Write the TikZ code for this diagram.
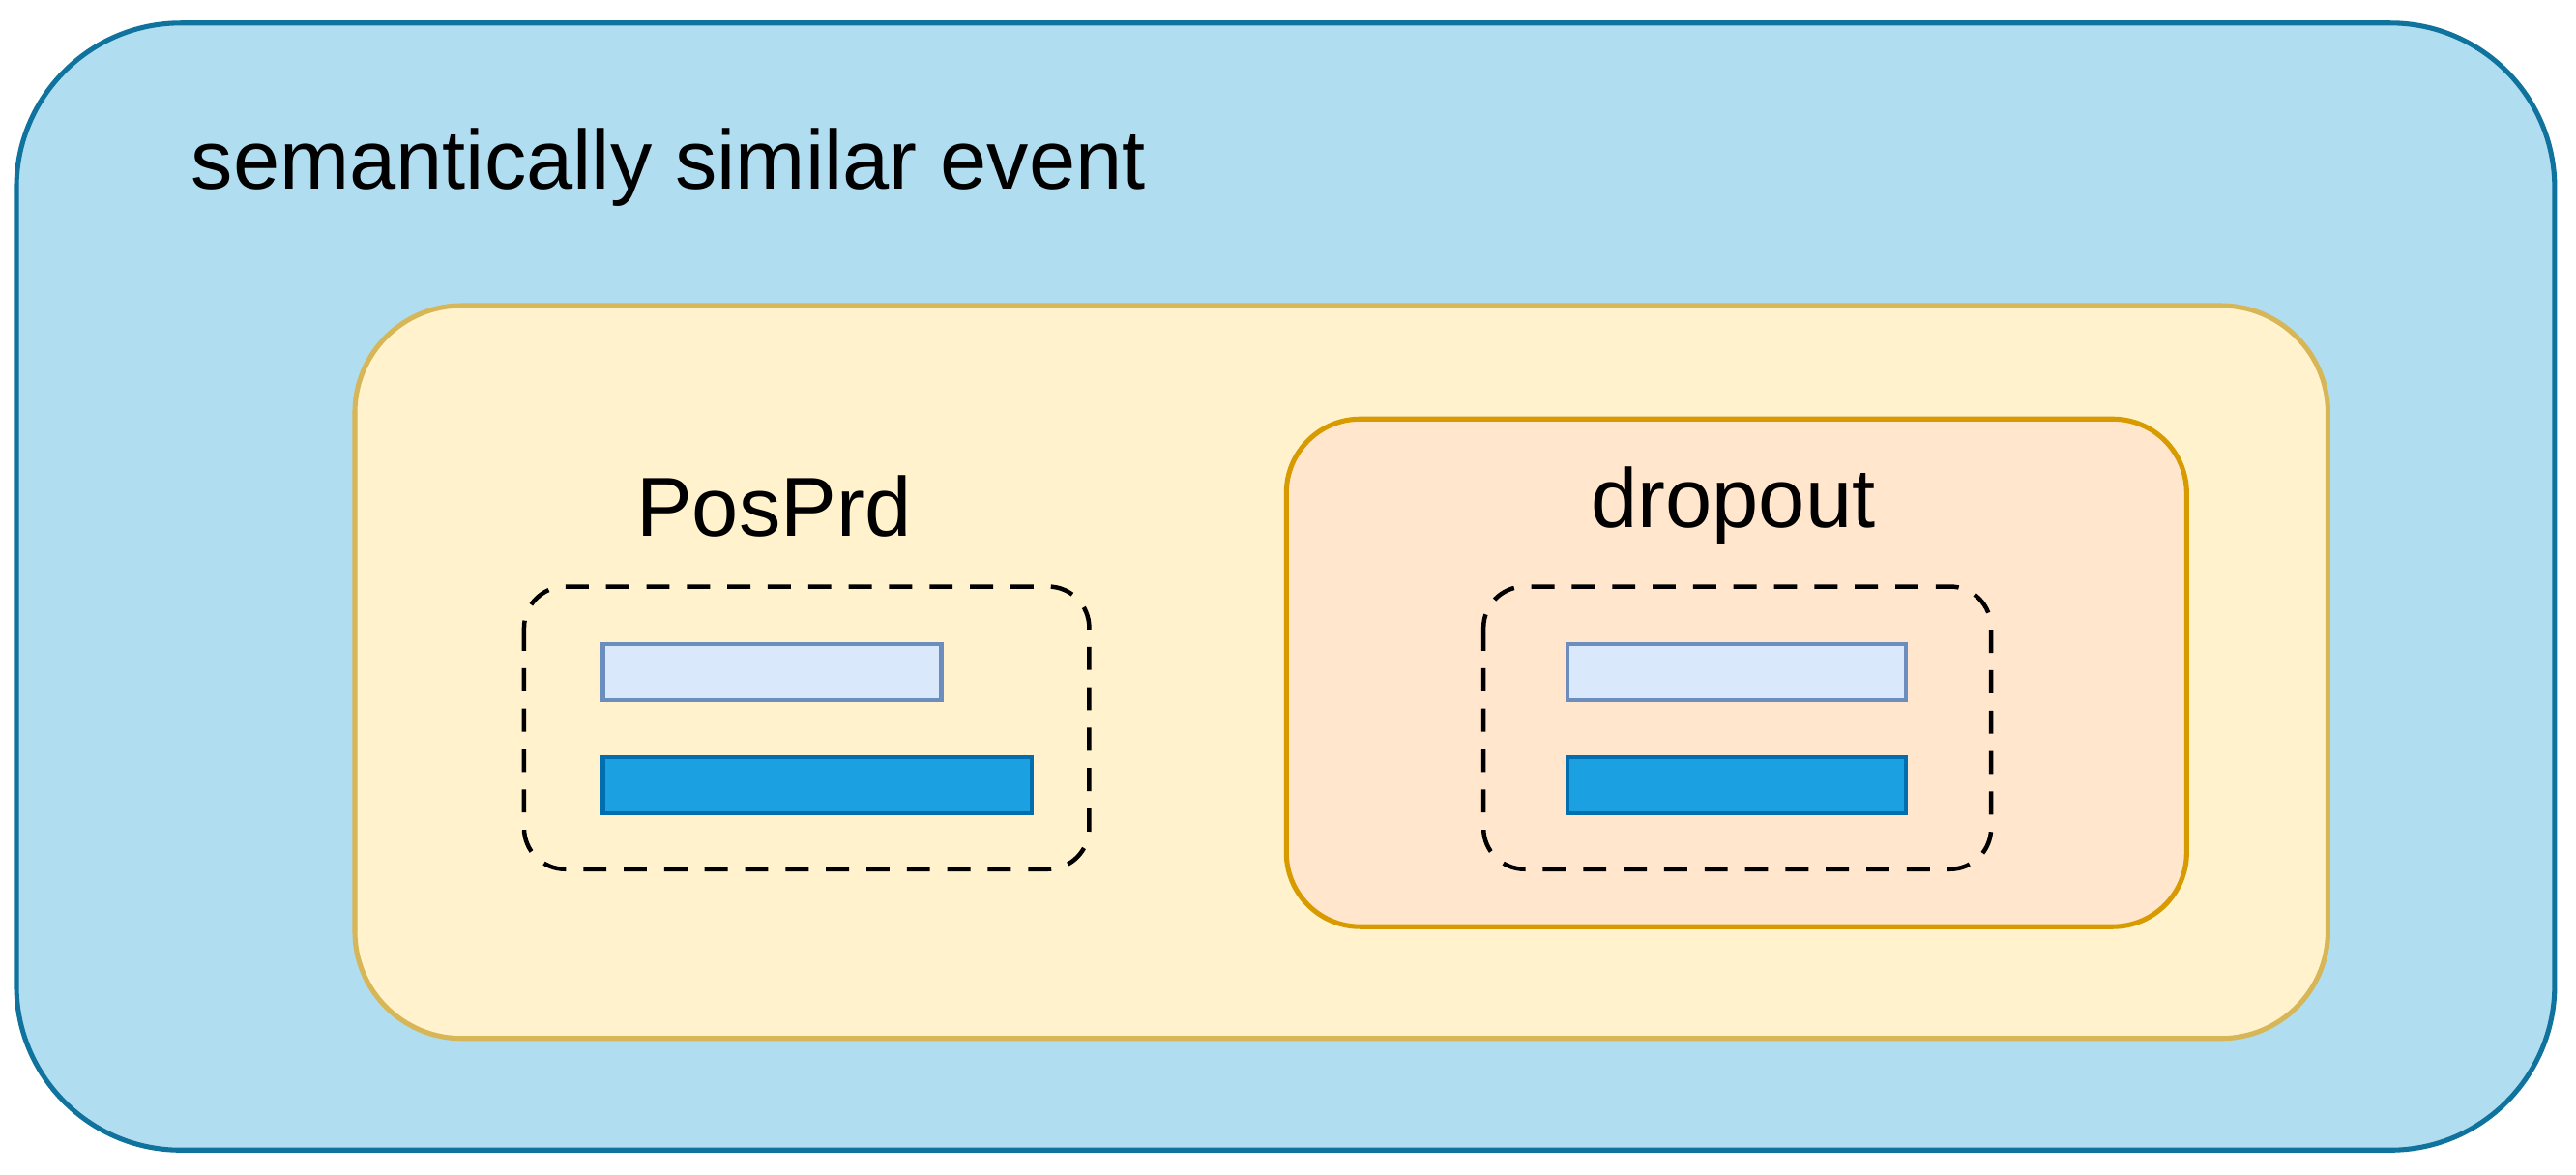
\documentclass[tikz,border=0pt]{standalone}
\usepackage{fontspec}
\setmainfont{Liberation Sans}
\definecolor{outerf}{HTML}{B1DDF0}\definecolor{outerd}{HTML}{10739E}
\definecolor{yelf}{HTML}{FFF2CC}\definecolor{yeld}{HTML}{D6B656}
\definecolor{orf}{HTML}{FFE6CC}\definecolor{ord}{HTML}{D79B00}
\definecolor{lbf}{HTML}{DAE8FC}\definecolor{lbd}{HTML}{6C8EBF}
\definecolor{dbf}{HTML}{1BA1E2}\definecolor{dbd}{HTML}{006EAF}
\begin{document}
\begin{tikzpicture}[x=0.01cm,y=-0.01cm,
  box/.style={line width=0.85pt},
  dbox/.style={draw=black,line width=0.75pt,dash pattern=on 4pt off 3pt,rounded corners=0.25cm},
  lbar/.style={draw=lbd,fill=lbf,line width=0.75pt},
  dbar/.style={draw=dbd,fill=dbf,line width=0.75pt},
  lbl/.style={font=\fontsize{14.5pt}{17pt}\selectfont}]
\useasboundingbox (0,0) rectangle (1568,715);
\draw[box,draw=outerd,fill=outerf,rounded corners=1cm] (10,14) rectangle (1555,700);
\draw[box,draw=yeld,fill=yelf,rounded corners=0.65cm] (216,186) rectangle (1417,632);
\draw[box,draw=ord,fill=orf,rounded corners=0.45cm] (783,255) rectangle (1331,564);
\draw[dbox] (319,357) rectangle (663,529);
\draw[dbox] (903,357) rectangle (1212,529);
\draw[lbar] (367,392) rectangle (573,426);
\draw[dbar] (367,461) rectangle (628,495);
\draw[lbar] (954,392) rectangle (1160,426);
\draw[dbar] (954,461) rectangle (1160,495);
\node[lbl,anchor=west] (title) at (104,102) {semantically similar event};
\node[lbl] (pos) at (471,308) {PosPrd};
\node[lbl] (drop) at (1055,308) {dropout};
\end{tikzpicture}
\end{document}
